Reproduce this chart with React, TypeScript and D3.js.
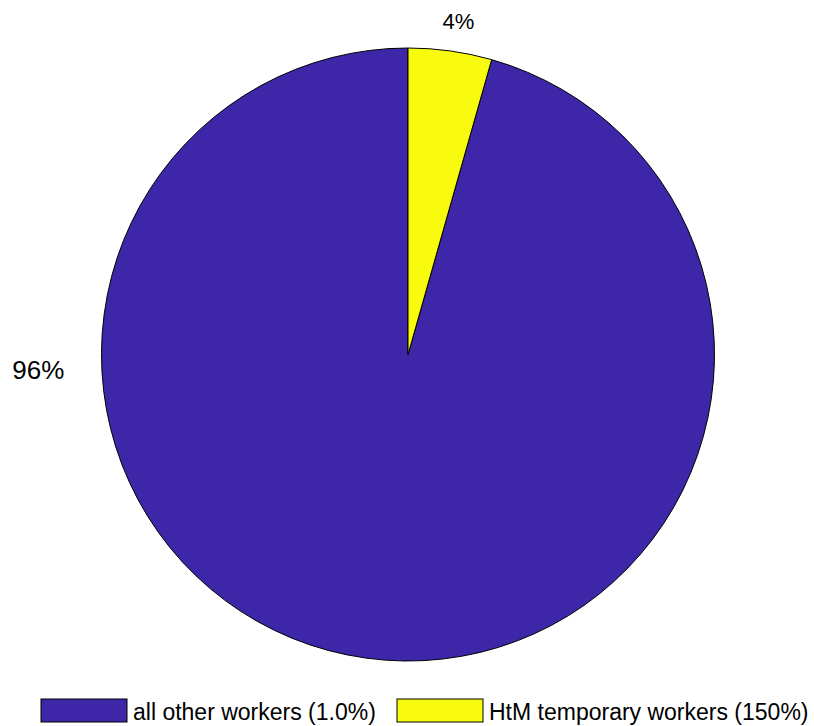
import React from "react";
import * as d3 from "d3";

const categories = ["all other workers (1.0%)", "HtM temporary workers (150%)"];
const shares = [95.6, 4.4];
const sliceLabels = ["96%", "4%"];
const colors = ["#3e26a8", "#f9fb0e"];

const W = 814;
const H = 726;
const cx = 408;
const cy = 354.5;
const R = 306.5;

export default function App() {
  // MATLAB-like: first slice starts at 12 o'clock going counter-clockwise
  const pie = d3
    .pie<number>()
    .sort(null)
    .startAngle(0)
    .endAngle(-2 * Math.PI)
    .value((d) => d);
  const arcs = pie(shares);
  const arc = d3.arc<d3.PieArcDatum<number>>().innerRadius(0).outerRadius(R);

  // label layout (angle in d3 convention, radius factor, font size)
  const labelPos = [
    { a: -Math.PI / 2 - 0.04, f: 1.207, fs: 26 },
    { a: (arcs[1].startAngle + arcs[1].endAngle) / 2 + 0.012, f: 1.1, fs: 22 },
  ];

  const legendX = [41, 397];
  return (
    <svg width={W} height={H} style={{ position: "absolute", left: 0, top: 0 }}>
      <rect width={W} height={H} fill="#fff" />
      <g transform={`translate(${cx},${cy})`}>
        {arcs.map((a, i) => (
          <path key={i} d={arc(a) || ""} fill={colors[i]} stroke="#000" strokeWidth={1} />
        ))}
        {arcs.map((a, i) => {
          const p = labelPos[i];
          const x = Math.sin(p.a) * R * p.f;
          const y = -Math.cos(p.a) * R * p.f;
          return (
            <text
              key={i}
              x={x}
              y={y + p.fs * 0.36}
              textAnchor="middle"
              fontFamily="Liberation Sans, Arial, sans-serif"
              fontSize={p.fs}
              fill="#000"
            >
              {sliceLabels[i]}
            </text>
          );
        })}
      </g>
      {categories.map((c, i) => (
        <g key={i}>
          <rect x={legendX[i]} y={699} width={86} height={23} fill={colors[i]} stroke="#000" strokeWidth={1} />
          <text
            x={legendX[i] + 92}
            y={719.5}
            fontFamily="Liberation Sans, Arial, sans-serif"
            fontSize={23}
            fill="#000"
          >
            {c}
          </text>
        </g>
      ))}
    </svg>
  );
}
